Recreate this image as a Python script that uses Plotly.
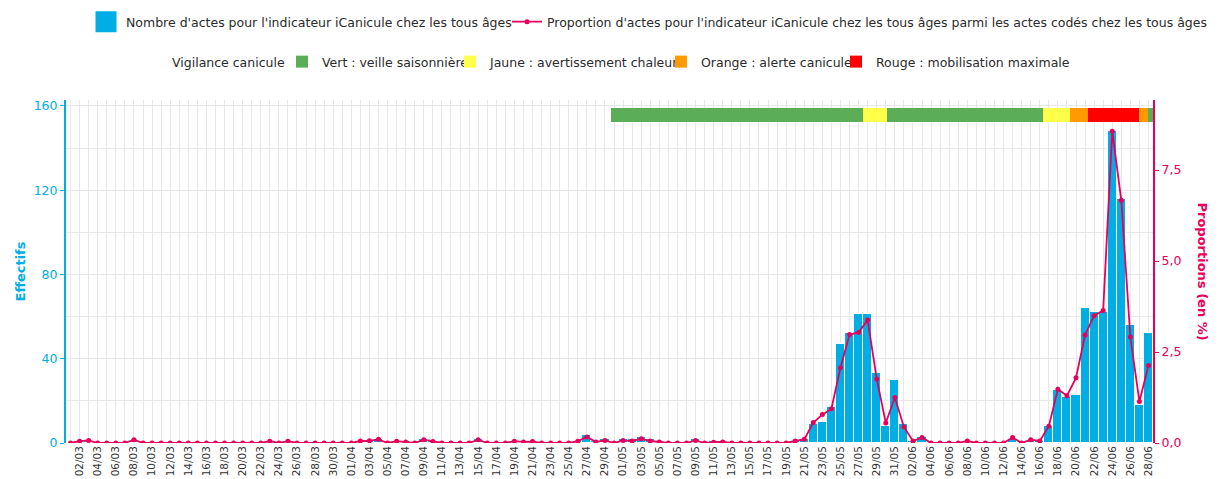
import pandas as pd
import plotly.graph_objects as go

# ---------------- Data ----------------
# Daily number of acts (Effectifs), 1 March -> 28 June
effectifs_mars = [0, 1, 1, 0, 0, 0, 0, 1, 0, 0,
                  0, 0, 0, 0, 0, 0, 0, 0, 0, 0,
                  0, 0, 1, 0, 1, 0, 0, 0, 0, 0,
                  0]
effectifs_avril = [0, 1, 1, 2, 0, 1, 1, 0, 2, 1,
                   0, 0, 0, 0, 2, 0, 0, 0, 1, 1,
                   1, 0, 0, 0, 0, 1, 4, 1, 2, 0]
effectifs_mai = [2, 2, 3, 2, 1, 0, 0, 0, 2, 0,
                 1, 1, 0, 0, 0, 0, 0, 0, 0, 1,
                 2, 9, 10, 17, 47, 52, 61, 61, 33, 8,
                 30]
effectifs_juin = [9, 1, 3, 0, 0, 0, 0, 1, 0, 0,
                  0, 0, 2, 0, 1, 1, 8, 25, 22, 23,
                  64, 62, 62, 148, 116, 56, 18, 52]

# Daily proportion (%)
prop_mars = [0, 0.05, 0.07, 0, 0, 0, 0, 0.09, 0, 0,
             0, 0, 0, 0, 0, 0, 0, 0, 0, 0,
             0, 0, 0.05, 0, 0.05, 0, 0, 0, 0, 0,
             0]
prop_avril = [0, 0.055, 0.06, 0.10, 0, 0.05, 0.03, 0, 0.09, 0.04,
              0, 0, 0, 0, 0.09, 0, 0, 0, 0.05, 0.03,
              0.04, 0, 0, 0, 0, 0.05, 0.165, 0.03, 0.07, 0]
prop_mai = [0.07, 0.055, 0.12, 0.055, 0.03, 0, 0, 0, 0.07, 0,
            0.02, 0.03, 0, 0, 0, 0, 0, 0, 0, 0.055,
            0.10, 0.56, 0.78, 0.94, 2.07, 2.98, 3.04, 3.38, 1.76, 0.55,
            1.25]
prop_juin = [0.44, 0.055, 0.15, 0, 0, 0, 0, 0.055, 0, 0,
             0, 0, 0.15, 0, 0.09, 0.055, 0.46, 1.48, 1.30, 1.79,
             2.97, 3.50, 3.64, 8.57, 6.67, 2.91, 1.14, 2.13]

# Heat vigilance periods
vig_niveau = ["Vert", "Jaune", "Vert", "Jaune", "Orange", "Rouge", "Orange", "Vert"]
vig_debut = ["2025-04-29 17:00", "2025-05-27 12:00", "2025-05-30 03:00",
             "2025-06-16 08:00", "2025-06-19 08:00", "2025-06-21 09:00",
             "2025-06-27 00:00", "2025-06-28 00:00"]
vig_fin = vig_debut[1:] + ["2025-06-29 00:00"]

vig_labels = {
    "Vert": "Vert : veille saisonnière",
    "Jaune": "Jaune : avertissement chaleur",
    "Orange": "Orange : alerte canicule",
    "Rouge": "Rouge : mobilisation maximale",
}
vig_colors = {"Vert": "#5BAE57", "Jaune": "#FFFF4A", "Orange": "#FF9A00", "Rouge": "#FF0000"}

NOM_BAR = "Nombre d'actes pour l'indicateur iCanicule chez les tous âges"
NOM_LINE = ("Proportion d'actes pour l'indicateur iCanicule chez les tous âges "
            "parmi les actes codés chez les tous âges")

# ---------------- Figure ----------------
effectifs = effectifs_mars + effectifs_avril + effectifs_mai + effectifs_juin
proportions = prop_mars + prop_avril + prop_mai + prop_juin
dates = pd.date_range("2025-03-01", periods=len(effectifs), freq="D")

BLUE = "#00AEE6"
PINK = "#E6005C"
FONT = "DejaVu Sans"
GRID = "#E8E8E8"

fig = go.Figure()

fig.add_trace(go.Bar(
    x=dates, y=effectifs, name=NOM_BAR, showlegend=False,
    marker=dict(color=BLUE, line=dict(color="white", width=1)),
))
# legend proxy for the bars
fig.add_trace(go.Scatter(
    x=[None], y=[None], mode="markers", name=NOM_BAR, legend="legend",
    marker=dict(symbol="square", size=16, color=BLUE, line=dict(color=BLUE, width=5)),
))
fig.add_trace(go.Scatter(
    x=dates, y=proportions, yaxis="y2", mode="lines+markers", name=NOM_LINE,
    legend="legend6",
    line=dict(color=PINK, width=1.8), marker=dict(color=PINK, size=5),
))

vig_df = pd.DataFrame({"niveau": vig_niveau,
                       "debut": pd.to_datetime(vig_debut),
                       "fin": pd.to_datetime(vig_fin)})
legend_for = {"Vert": "legend2", "Jaune": "legend3", "Orange": "legend4", "Rouge": "legend5"}
for niv in ["Vert", "Jaune", "Orange", "Rouge"]:
    sub = vig_df[vig_df["niveau"] == niv]
    dur = ((sub["fin"] - sub["debut"]) / pd.Timedelta(milliseconds=1)).tolist()
    fig.add_trace(go.Bar(
        orientation="h", y=[0] * len(sub), x=dur,
        base=sub["debut"].dt.strftime("%Y-%m-%d %H:%M").tolist(),
        width=1, yaxis="y3", name=vig_labels[niv], legend=legend_for[niv],
        marker=dict(color=vig_colors[niv], line=dict(width=0)),
    ))

half = pd.Timedelta(hours=12)
legend_font = dict(family=FONT, size=12.5, color="#2b2b2b")


def leg(xpx, ypx):
    return dict(orientation="h", xref="container", yref="container",
                x=xpx / 1220, y=1 - ypx / 479, xanchor="left", yanchor="middle",
                font=legend_font, bgcolor="rgba(0,0,0,0)", borderwidth=0,
                itemclick=False, itemdoubleclick=False)


fig.update_layout(
    width=1220, height=479,
    margin=dict(l=66, r=67, t=100, b=36, autoexpand=False),
    paper_bgcolor="white", plot_bgcolor="white",
    font=dict(family=FONT, size=12, color="#333333"),
    separators=", ",
    barmode="overlay", bargap=0,
    xaxis=dict(
        type="date",
        range=[dates[0] - half, dates[-1] + half],
        tickformat="%d/%m", tick0="2025-03-02", dtick=2 * 86400000,
        tickangle=-90, tickfont=dict(family=FONT, size=10.5, color="#333333"),
        showgrid=True, gridcolor=GRID, gridwidth=1,
        minor=dict(dtick=86400000, showgrid=True, gridcolor=GRID, gridwidth=1),
        showline=False, zeroline=False, ticks="", automargin=False,
    ),
    yaxis=dict(
        range=[0, 1.1 * max(effectifs)], tick0=0, dtick=40,
        showgrid=True, gridcolor=GRID, gridwidth=1,
        minor=dict(dtick=20, showgrid=True, gridcolor=GRID, gridwidth=1),
        showline=True, linecolor=BLUE, linewidth=2,
        ticks="outside", ticklen=4, tickcolor=BLUE,
        tickfont=dict(family=FONT, size=12.5, color=BLUE),
        title=dict(text="<b>Effectifs</b>", font=dict(family=FONT, size=13, color=BLUE), standoff=5),
        zeroline=False, automargin=False,
    ),
    yaxis2=dict(
        overlaying="y", side="right",
        range=[0, 1.1 * max(proportions)],
        tickvals=[0, 2.5, 5, 7.5], tickformat=".1f", ticksuffix="%",
        showgrid=False, showline=True, linecolor=PINK, linewidth=2,
        ticks="outside", ticklen=4, tickcolor=PINK,
        tickfont=dict(family=FONT, size=12.5, color=PINK),
        zeroline=False, automargin=False,
    ),
    yaxis3=dict(overlaying="y", range=[-23.41, 1.09], visible=False, fixedrange=True),
    legend=leg(86, 22),
    legend6=leg(507, 22),
    legend2=leg(282, 62),
    legend3=leg(450, 62),
    legend4=leg(661, 62),
    legend5=leg(836, 62),
    annotations=[
        dict(text="<b>Proportions (en %)</b>", textangle=90, xref="paper", yref="paper",
             x=1, y=0.5, xshift=49, xanchor="center", yanchor="middle", showarrow=False,
             font=dict(family=FONT, size=13, color=PINK)),
        dict(text="Vigilance canicule", xref="paper", yref="paper",
             x=(170 - 66) / 1087, y=(443 - 62) / 343, xanchor="left", yanchor="middle",
             showarrow=False, font=legend_font),
    ],
)

fig.write_html("out.html", config={"displayModeBar": False},
               post_script="document.body.style.margin='0px'; document.body.style.overflow='hidden';")
